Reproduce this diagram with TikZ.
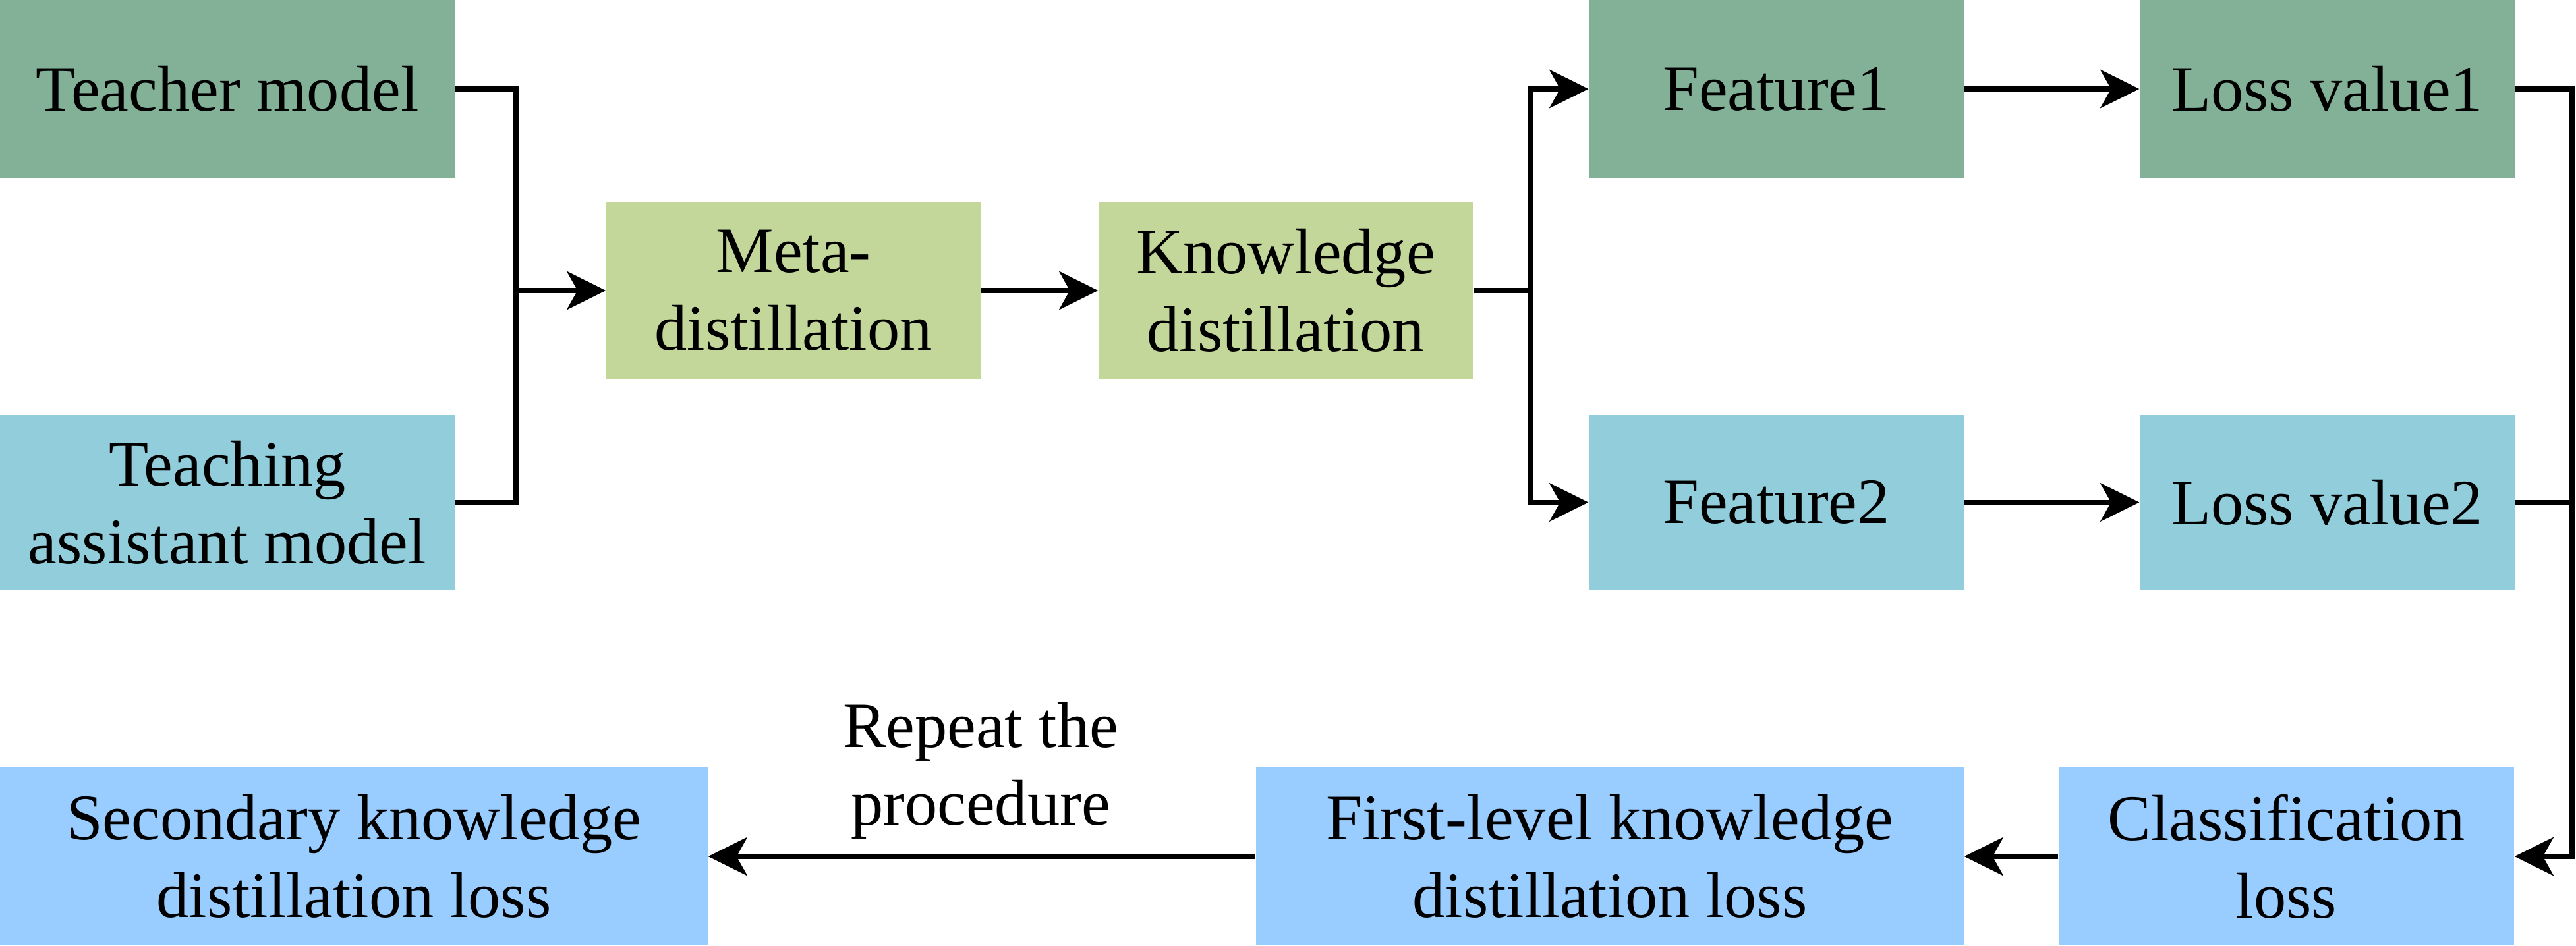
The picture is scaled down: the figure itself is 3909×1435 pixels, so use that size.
\documentclass[tikz,border=0pt]{standalone}
\usepackage{fontspec}
\setmainfont{Liberation Serif}
\usetikzlibrary{arrows.meta}
\definecolor{tgreen}{RGB}{130,177,151}
\definecolor{tblue}{RGB}{146,205,220}
\definecolor{mgreen}{RGB}{196,215,155}
\definecolor{lblue}{RGB}{153,204,255}
\begin{document}
\begin{tikzpicture}[x=0.1mm,y=0.1mm,yscale=-1,
  box/.style={inner sep=0pt, align=center, font=\fontsize{28}{33.6}\selectfont},
  line/.style={line width=0.8mm, line join=miter},
  arr/.style={line, -{Stealth[length=5.9mm,width=5.8mm,inset=1.6mm]}}]
\useasboundingbox (0,0) rectangle (3909,1435);

%Shape: Rectangle
\node [box, fill=tgreen, minimum width=69mm, minimum height=27mm] (teacher) at (345,135) {Teacher model};
%Shape: Rectangle
\node [box, fill=tblue, minimum width=69mm, minimum height=26.5mm] (ta) at (345,762.5) {Teaching\\assistant model};
%Shape: Rectangle
\node [box, fill=mgreen, minimum width=56.8mm, minimum height=26.8mm] (meta) at (1204,441) {Meta-\\distillation};
%Shape: Rectangle
\node [box, fill=mgreen, minimum width=56.8mm, minimum height=26.8mm] (kd) at (1951,441) {Knowledge\\distillation};
%Shape: Rectangle
\node [box, fill=tgreen, minimum width=56.9mm, minimum height=27mm] (feat1) at (2695.5,135) {Feature1};
%Shape: Rectangle
\node [box, fill=tgreen, minimum width=56.9mm, minimum height=27mm] (loss1) at (3531.5,135) {Loss value1};
%Shape: Rectangle
\node [box, fill=tblue, minimum width=56.9mm, minimum height=26.5mm] (feat2) at (2695.5,762.5) {Feature2};
%Shape: Rectangle
\node [box, fill=tblue, minimum width=56.9mm, minimum height=26.5mm] (loss2) at (3531.5,762.5) {Loss value2};
%Shape: Rectangle
\node [box, fill=lblue, minimum width=69.1mm, minimum height=27mm] (cls) at (3469.5,1300) {Classification\\loss};
%Shape: Rectangle
\node [box, fill=lblue, minimum width=107.4mm, minimum height=27mm] (first) at (2443,1300) {First-level knowledge\\distillation loss};
%Shape: Rectangle
\node [box, fill=lblue, minimum width=107.4mm, minimum height=27mm] (second) at (537,1300) {Secondary knowledge\\distillation loss};

% Text Node
\node [box] (repeat) at (1488,1170) {Repeat the\\procedure};

\coordinate (jleft) at (783,441);
\coordinate (jkd) at (2322,441);
\coordinate (jright) at (3903,1300);

%Straight Lines
\draw [line] (teacher.east) -| (jleft) |- (ta.east);
\draw [arr] (jleft) -- (meta.west);
\draw [arr] (meta.east) -- (kd.west);
\draw [line] (kd.east) -- (jkd);
\draw [arr] (jkd) |- (feat1.west);
\draw [arr] (jkd) |- (feat2.west);
\draw [arr] (feat1.east) -- (loss1.west);
\draw [arr] (feat2.east) -- (loss2.west);
\draw [arr] (loss1.east) -| (jright) -- (cls.east);
\draw [line] (loss2.east) -- (loss2.east -| jright);
\draw [arr] (cls.west) -- (first.east);
\draw [arr] (first.west) -- (second.east);

\end{tikzpicture}
\end{document}
